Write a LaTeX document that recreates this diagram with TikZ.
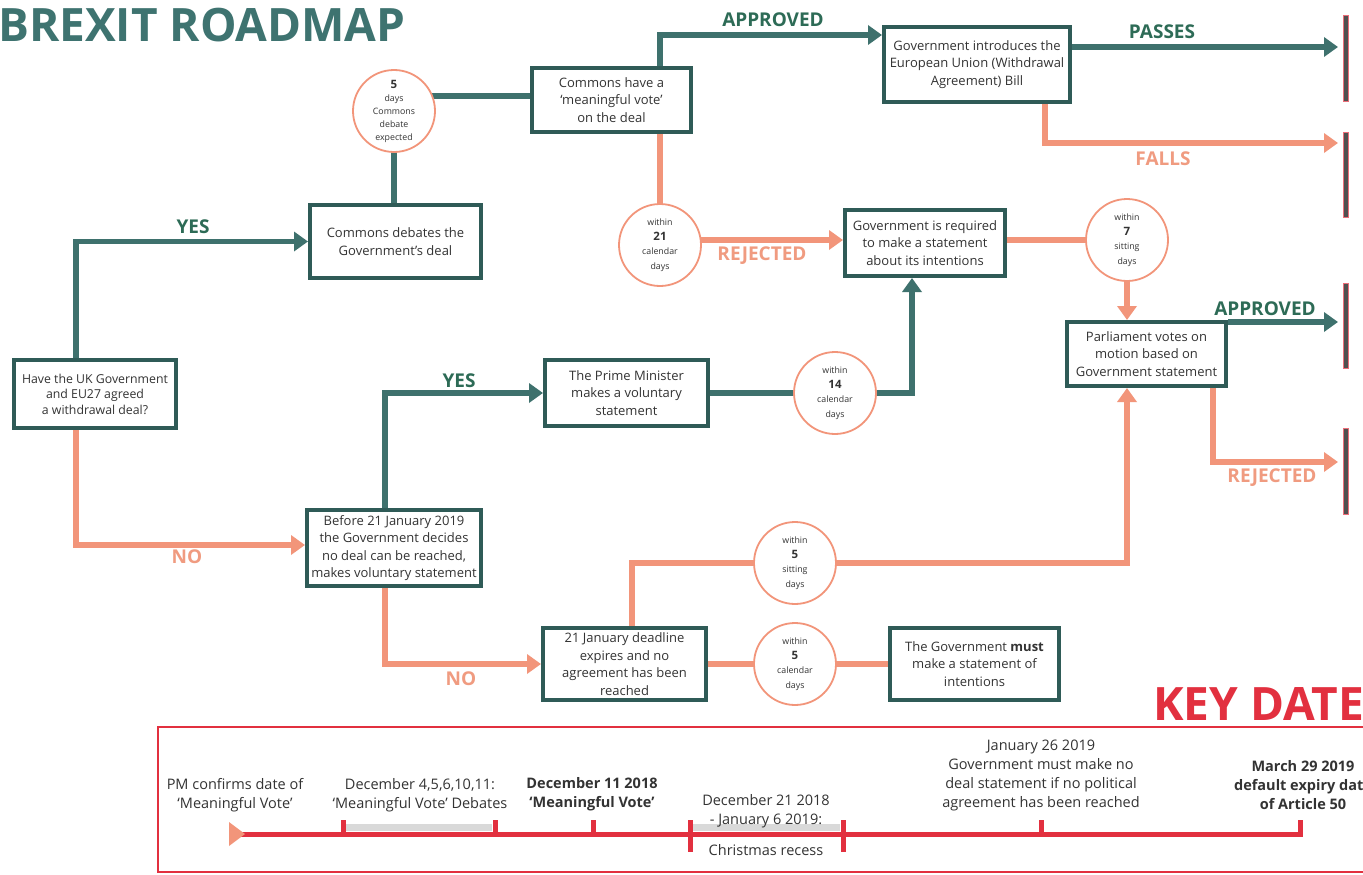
\documentclass[tikz,border=0pt]{standalone}
\usepackage{fontspec}
\setmainfont{Open Sans}
\usetikzlibrary{arrows.meta,backgrounds,calc}
\definecolor{boxteal}{HTML}{2F5B57}
\definecolor{lineteal}{HTML}{3E716D}
\definecolor{labgreen}{HTML}{2D6B56}
\definecolor{salmon}{HTML}{F2957A}
\definecolor{labsalmon}{HTML}{F09B80}
\definecolor{keyred}{HTML}{E2303F}
\definecolor{titleteal}{HTML}{3E7370}
\definecolor{txt}{HTML}{333333}
\definecolor{stripgray}{HTML}{505050}
\definecolor{hatchgray}{HTML}{D9D9D9}
\newcommand\cnum[1]{{\fontsize{11.5}{12}\selectfont\bfseries #1}}
\begin{document}
\begin{tikzpicture}[x=1pt,y=-1pt,
  box/.style={draw=boxteal, line width=4pt, fill=white, rectangle, inner sep=0pt, align=center, text=txt, font=\fontsize{13}{17.5}\selectfont},
  circ/.style={draw=salmon, line width=1.8pt, fill=white, circle, minimum size=82pt, inner sep=0pt, align=center, text=txt, font=\fontsize{8.8}{14.5}\selectfont},
  tline/.style={draw=lineteal, line width=5.5pt},
  sline/.style={draw=salmon, line width=5.5pt},
  tarrow/.style={tline, -{Triangle[length=14pt,width=19pt]}},
  sarrow/.style={sline, -{Triangle[length=14pt,width=19pt]}},
  glab/.style={text=labgreen, font=\fontsize{19}{19}\selectfont\bfseries},
  slab/.style={text=labsalmon, font=\fontsize{19}{19}\selectfont\bfseries},
  kd/.style={align=center, text=txt, font=\fontsize{14.5}{19}\selectfont},
  kdb/.style={kd, font=\fontsize{14.5}{19}\selectfont\bfseries}
]
\useasboundingbox (0,0) rectangle (1363,875);
\begin{pgfonlayer}{background}
\fill[white] (0,0) rectangle (1363,875);
\end{pgfonlayer}

% title
\node[anchor=base west, text=titleteal, font=\fontsize{46}{46}\selectfont\bfseries, inner sep=0pt] (title) at (-2,42) {BREXIT ROADMAP};

% boxes
\node[box, minimum width=162pt, minimum height=68pt, font=\fontsize{12.3}{15.5}\selectfont] (Q) at (95,394) {Have the UK Government\\and EU27 agreed\\a withdrawal deal?};
\node[box, minimum width=171pt, minimum height=73pt] (B2) at (395.5,241.5) {Commons debates the\\Government’s deal};
\node[box, minimum width=159pt, minimum height=64pt] (MV) at (611.5,100) {Commons have a\\‘meaningful vote’\\on the deal};
\node[box, minimum width=186pt, minimum height=75pt] (B6) at (977,64.5) {Government introduces the\\European Union (Withdrawal\\Agreement) Bill};
\node[box, minimum width=160pt, minimum height=66pt] (B7) at (925,243) {Government is required\\to make a statement\\about its intentions};
\node[box, minimum width=159pt, minimum height=64pt] (B8) at (1146.5,354) {Parliament votes on\\motion based on\\Government statement};
\node[box, minimum width=163pt, minimum height=66pt] (PM) at (626.5,393) {The Prime Minister\\makes a voluntary\\statement};
\node[box, minimum width=174pt, minimum height=76pt] (Before) at (394,548) {Before 21 January 2019\\the Government decides\\no deal can be reached,\\makes voluntary statement};
\node[box, minimum width=163pt, minimum height=72pt] (J21) at (624.5,664) {21 January deadline\\expires and no\\agreement has been\\reached};
\node[box, minimum width=169pt, minimum height=72pt] (Must) at (974.5,664) {The Government \textbf{must}\\make a statement of\\intentions};

% circles
\node[circ, font=\fontsize{8.8}{13}\selectfont] (C5) at (394,111) {\cnum{5}\\days\\Commons\\debate\\expected};
\node[circ] (C21) at (660,245) {within\\\cnum{21}\\calendar\\days};
\node[circ] (C7) at (1127,240) {within\\\cnum{7}\\sitting\\days};
\node[circ] (C14) at (835,393) {within\\\cnum{14}\\calendar\\days};
\node[circ] (C5s) at (795,563) {within\\\cnum{5}\\sitting\\days};
\node[circ] (C5c) at (795,664) {within\\\cnum{5}\\calendar\\days};

% helper coordinates
\coordinate (xQ) at (76,0);
\coordinate (xMV) at (660,0);
\coordinate (yAp) at (0,35);
\coordinate (yPass) at (0,47);
\coordinate (y96) at (0,96);
\coordinate (y240) at (0,240);
\coordinate (y545) at (0,545);
\coordinate (xFall) at (1045,0);
\coordinate (xRej) at (1213,0);
\coordinate (x912) at (912,0);
\coordinate (x385) at (385,0);
\coordinate (x632) at (632,0);
\coordinate (endPass) at (1338,47);
\coordinate (endFall) at (1338,143);
\coordinate (endAp) at (1338,322);
\coordinate (endRej) at (1338,462);

\begin{pgfonlayer}{background}
\draw[tline] (B2.north -| C5.center) -- (C5.center);
\draw[tline] (C5.center |- y96) -- (MV.west |- y96);
\draw[tarrow] (MV.north -| xMV) |- (B6.west |- yAp);
\draw[tarrow] (B6.east |- yPass) -- (endPass);
\draw[sarrow] (B6.south -| xFall) |- (endFall);
\draw[sline] (MV.south -| xMV) -- (C21.center);
\draw[sarrow] (C21.center |- y240) -- (B7.west |- y240);
\draw[sline] (B7.east |- y240) -- (C7.center |- y240);
\draw[sarrow] (C7.south) -- (B8.north -| C7.south);
\draw[tarrow] (B8.east |- endAp) -- (endAp);
\draw[sarrow] (B8.south -| xRej) |- (endRej);
\draw[tline] (PM.east) -- (C14.center);
\draw[tarrow] (C14.center) -| (B7.south -| x912);
\draw[tarrow] (Q.north -| xQ) |- (B2.west);
\draw[sarrow] (Q.south -| xQ) |- (Before.west |- y545);
\draw[tarrow] (Before.north -| x385) |- (PM.west);
\draw[sarrow] (Before.south -| x385) |- (J21.west);
\draw[sline] (J21.east) -- (Must.west);
\draw[sarrow] (J21.north -| x632) |- (C5s.center) -| (B8.south -| C7.center);
\end{pgfonlayer}

% labels
\node[glab] (lyes1) at (193,227) {YES};
\node[slab] (lno1) at (187,557) {NO};
\node[glab] (lyes2) at (459,381) {YES};
\node[slab] (lno2) at (461,679) {NO};
\node[glab] (lap1) at (773,20) {APPROVED};
\node[slab] (lrej1) at (762,256) {REJECTED};
\node[glab] (lpass) at (1162,32) {PASSES};
\node[slab] (lfall) at (1163,159) {FALLS};
\node[glab] (lap2) at (1265,309) {APPROVED};
\node[slab] (lrej2) at (1272,478) {REJECTED};

% right-edge cut boxes
\foreach \a/\b in {15/101, 132/217, 283/368, 428/514}
  \draw[draw=keyred!70, fill=stripgray, line width=0.6pt] (1343,\a) rectangle (1348,\b);

% key dates
\node[anchor=base west, text=keyred, font=\fontsize{46}{46}\selectfont\bfseries, inner sep=0pt] (keyd) at (1153,720) {KEY DATE};
\draw[keyred, line width=2.5pt] (158,727) rectangle (1420,872);
\fill[hatchgray] (346,824) rectangle (492,831);
\fill[hatchgray] (693,824) rectangle (840,831);
\draw[keyred, line width=5pt] (240,834) -- (1303,834);
\foreach \x in {343,495,593,1041,1300} \draw[keyred, line width=5pt] (\x,820) -- (\x,836);
\foreach \x in {690,843} \draw[keyred, line width=5pt] (\x,820) -- (\x,852);
\fill[salmon] (229,822) -- (245,834) -- (229,846) -- cycle;

\node[kd] (kd1) at (235,795) {PM confirms date of\\‘Meaningful Vote’};
\node[kd] (kd2) at (420,795) {December 4,5,6,10,11:\\‘Meaningful Vote’ Debates};
\node[kdb] (kd3) at (592,794) {December 11 2018\\‘Meaningful Vote’};
\node[kd] (kd4) at (766,811) {December 21 2018\\- January 6 2019:};
\node[kd] (kd5) at (766,850) {Christmas recess};
\node[kd] (kd6) at (1041,775) {January 26 2019\\Government must make no\\deal statement if no political\\agreement has been reached};
\node[kdb] (kd7) at (1303,785) {March 29 2019\\default expiry date\\of Article 50};
\end{tikzpicture}
\end{document}
